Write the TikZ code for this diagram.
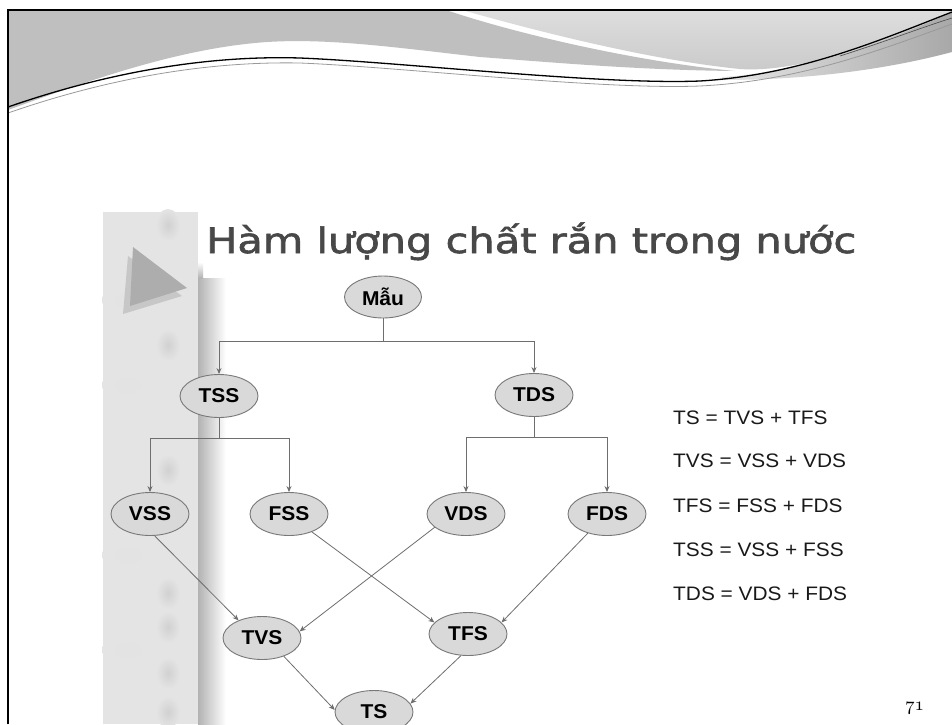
\documentclass[tikz,border=0pt]{standalone}
\usepackage{fontspec}
\usepackage{graphicx}
\usetikzlibrary{shapes.geometric,arrows.meta}
\newfontfamily\titlefont[FakeBold=1.6]{DejaVu Sans}
\newfontfamily\arialfont{Liberation Sans}
\definecolor{titlegray}{RGB}{72,72,72}
\definecolor{ellfill}{RGB}{217,217,217}
\definecolor{ellline}{RGB}{120,120,120}
\definecolor{connc}{RGB}{110,110,110}
\definecolor{swA}{RGB}{191,191,191}
\definecolor{stripc}{RGB}{228,228,228}
\newcommand\ndtxt[1]{\scalebox{1.05}[1]{#1}}
\newcommand\fmtxt[1]{\scalebox{1.07}[1]{#1}}
\tikzset{
  ell/.style={ellipse, draw=ellline, line width=0.9pt, fill=ellfill, minimum width=78pt, minimum height=43pt, inner sep=0pt,
    font=\arialfont\bfseries\fontsize{20}{22}\selectfont, text=black},
  conn/.style={draw=connc, line width=0.8pt, -{Stealth[length=6pt,width=5pt]}},
  plainconn/.style={draw=connc, line width=0.8pt},
  fml/.style={anchor=base west, inner sep=0pt, font=\arialfont\fontsize{19.5}{22}\selectfont, text=black!90}
}
\begin{document}
\begin{tikzpicture}[x=1pt,y=-1pt]
\useasboundingbox (0,0) rectangle (952,724);
\fill[white] (0,0) rectangle (952,724);
% ---- header swoosh ----
\fill[swA] (8,10) -- (446,10) .. controls (520,35) and (640,62) .. (735,71)
  .. controls (640,70) and (560,63) .. (480,57) .. controls (400,48) and (330,38) .. (267,42)
  .. controls (180,48) and (90,80) .. (8,110) -- cycle;
\shade[top color=black!13, bottom color=black!21] (462,10) .. controls (540,32) and (650,60) .. (740,69)
  .. controls (795,73) and (880,45) .. (952,12) -- (952,10) -- cycle;
\shade[left color=black!10, right color=black!34] (722,77) .. controls (795,73) and (880,45) .. (952,12)
  -- (952,52) .. controls (900,66) and (820,80) .. (722,80) -- cycle;
\draw[black!40, line width=0.8pt] (8,113) .. controls (100,81) and (200,61) .. (300,63)
  .. controls (400,67) and (600,90) .. (700,86) .. controls (800,81) and (880,50) .. (952,24);
\draw[black, line width=1.3pt] (8,107) .. controls (100,75) and (200,55) .. (300,58)
  .. controls (400,62) and (600,85) .. (700,81) .. controls (800,75) and (880,40) .. (952,12);
\draw[black!70, line width=0.6pt] (840,56) .. controls (890,40) and (920,28) .. (952,18);
% ---- frame ----
\draw[black, line width=2.6pt] (8,724) -- (8,10) -- (952,10);
% ---- left decorative strip ----
\fill[stripc] (103,212) rectangle (198,724);
\foreach \yy in {225,345,470,593,627,673,712}
  \shade[inner color=black!18, outer color=stripc] (168,\yy) ellipse (12 and 16);
\foreach \yy in {300,385,555,650}
  \shade[inner color=black!11, outer color=stripc] (128,\yy) ellipse (26 and 16);
\shade[left color=black!30, right color=white] (198,278) rectangle (226,724);
\shade[top color=white, bottom color=black!30] (198,262) rectangle (203,278);
\fill[black!22] (128,256) -- (182,296) -- (123,314) -- cycle;
\fill[black!32] (133,247) -- (187,288) -- (130,306) -- cycle;
% ---- title ----
\node[anchor=base west, inner sep=0pt, text=titlegray] (title) at (206,253)
  {\resizebox{650pt}{\height}{\titlefont\fontsize{35}{40}\selectfont Hàm lượng chất rắn trong nước}};
% ---- nodes ----
\node[ell, minimum width=77pt, minimum height=42pt] (mau) at (383,297) {\ndtxt{Mẫu}};
\node[ell] (tss) at (219,396) {\ndtxt{TSS}};
\node[ell] (tds) at (534,395) {\ndtxt{TDS}};
\node[ell] (vss) at (150,514) {\ndtxt{VSS}};
\node[ell] (fss) at (289,514) {\ndtxt{FSS}};
\node[ell] (vds) at (466,514) {\ndtxt{VDS}};
\node[ell] (fds) at (607,514) {\ndtxt{FDS}};
\node[ell] (tvs) at (262,638) {\ndtxt{TVS}};
\node[ell] (tfs) at (468,634) {\ndtxt{TFS}};
\node[ell] (ts) at (374,712) {\ndtxt{TS}};
% ---- tree connectors ----
\coordinate (b1) at (383,341);
\coordinate (b2) at (219,438);
\coordinate (b3) at (534,437);
\draw[plainconn] (mau.south) -- (b1);
\draw[conn] (b1) -| (tss.north);
\draw[conn] (b1) -| (tds.north);
\draw[plainconn] (tss.south) -- (b2);
\draw[conn] (b2) -| (vss.north);
\draw[conn] (b2) -| (fss.north);
\draw[plainconn] (tds.south) -- (b3);
\draw[conn] (b3) -| (vds.north);
\draw[conn] (b3) -| (fds.north);
% ---- diagonal connectors ----
\draw[conn] (vss.-78) -- (tvs.143);
\draw[conn] (vds.203) -- (tvs.10);
\draw[conn] (fss.-38) -- (tfs.161);
\draw[conn] (fds.-135) -- (tfs.19);
\draw[conn] (tvs.-40) -- (ts.177);
\draw[conn] (tfs.-108) -- (ts.13);
% ---- formulas ----
\node[fml] (f1) at (673,424) {\fmtxt{TS = TVS + TFS}};
\node[fml] (f2) at (673,467) {\fmtxt{TVS = VSS + VDS}};
\node[fml] (f3) at (673,512) {\fmtxt{TFS = FSS + FDS}};
\node[fml] (f4) at (673,556) {\fmtxt{TSS = VSS + FSS}};
\node[fml] (f5) at (673,600) {\fmtxt{TDS = VDS + FDS}};
% ---- page number ----
\node[anchor=base west, inner sep=0pt] (pg) at (905,710) {\scalebox{1.9}{$\mathnormal{71}$}};
\end{tikzpicture}
\end{document}
